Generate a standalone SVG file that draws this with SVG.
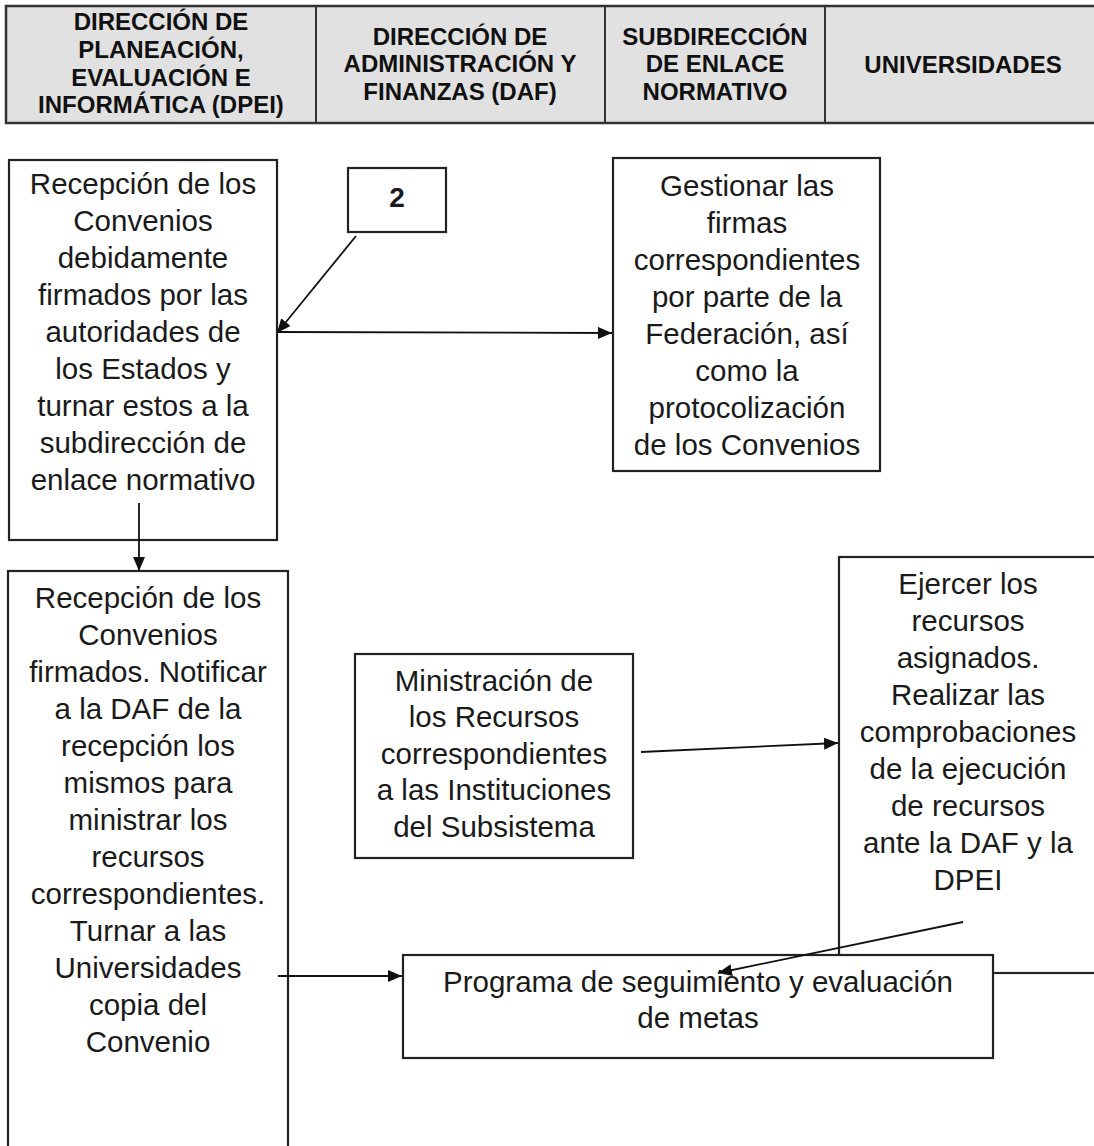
<svg xmlns="http://www.w3.org/2000/svg" width="1094" height="1146" viewBox="0 0 1094 1146">
<style>
.hdr{font-family:"Liberation Sans",Arial,sans-serif;font-weight:bold;font-size:24px;fill:#111;text-anchor:middle}
.t{font-family:"Liberation Sans",Arial,sans-serif;font-size:29.5px;fill:#1a1a1a;text-anchor:middle}
.box{fill:#fff;stroke:#222;stroke-width:2.2}
.c{stroke:#111;stroke-width:1.8;fill:none}
</style>
<defs>
<marker id="ah" viewBox="0 0 14 12" refX="14" refY="6" markerWidth="14" markerHeight="12" markerUnits="userSpaceOnUse" orient="auto">
<path d="M0,0 L14,6 L0,12 Z" fill="#111"/>
</marker>
</defs>
<rect width="1094" height="1146" fill="#fff"/>
<g id="header">
<rect x="6" y="6" width="1100" height="117" fill="#e1e1e1" stroke="#333" stroke-width="2.5"/>
<line x1="316" y1="6" x2="316" y2="123" stroke="#333" stroke-width="2"/>
<line x1="605" y1="6" x2="605" y2="123" stroke="#333" stroke-width="2"/>
<line x1="825" y1="6" x2="825" y2="123" stroke="#333" stroke-width="2"/>
<text class="hdr" x="161" y="30">DIRECCIÓN DE</text>
<text class="hdr" x="161" y="58">PLANEACIÓN,</text>
<text class="hdr" x="161" y="86">EVALUACIÓN E</text>
<text class="hdr" x="161" y="113">INFORMÁTICA (DPEI)</text>
<text class="hdr" x="460" y="45">DIRECCIÓN DE</text>
<text class="hdr" x="460" y="72">ADMINISTRACIÓN Y</text>
<text class="hdr" x="460" y="100">FINANZAS (DAF)</text>
<text class="hdr" x="715" y="45">SUBDIRECCIÓN</text>
<text class="hdr" x="715" y="72">DE ENLACE</text>
<text class="hdr" x="715" y="100">NORMATIVO</text>
<text class="hdr" x="963" y="73">UNIVERSIDADES</text>
</g>
<g id="n1">
<rect class="box" x="9" y="160" width="268" height="380"/>
<text class="t" x="143" y="194">Recepción de los</text>
<text class="t" x="143" y="231">Convenios</text>
<text class="t" x="143" y="268">debidamente</text>
<text class="t" x="143" y="305">firmados por las</text>
<text class="t" x="143" y="342">autoridades de</text>
<text class="t" x="143" y="379">los Estados y</text>
<text class="t" x="143" y="416">turnar estos a la</text>
<text class="t" x="143" y="453">subdirección de</text>
<text class="t" x="143" y="490">enlace normativo</text>
</g>
<g id="n2">
<rect class="box" x="348" y="168" width="98" height="64"/>
<text class="t" x="397" y="207" style="font-weight:bold;font-size:28px">2</text>
</g>
<g id="n3">
<rect class="box" x="613" y="158" width="267" height="313"/>
<text class="t" x="747" y="196">Gestionar las</text>
<text class="t" x="747" y="233">firmas</text>
<text class="t" x="747" y="270">correspondientes</text>
<text class="t" x="747" y="307">por parte de la</text>
<text class="t" x="747" y="344">Federación, así</text>
<text class="t" x="747" y="381">como la</text>
<text class="t" x="747" y="418">protocolización</text>
<text class="t" x="747" y="455">de los Convenios</text>
</g>
<g id="n4">
<rect class="box" x="8" y="571" width="280" height="600"/>
<text class="t" x="148" y="608">Recepción de los</text>
<text class="t" x="148" y="645">Convenios</text>
<text class="t" x="148" y="682">firmados. Notificar</text>
<text class="t" x="148" y="719">a la DAF de la</text>
<text class="t" x="148" y="756">recepción los</text>
<text class="t" x="148" y="793">mismos para</text>
<text class="t" x="148" y="830">ministrar los</text>
<text class="t" x="148" y="867">recursos</text>
<text class="t" x="148" y="904">correspondientes.</text>
<text class="t" x="148" y="941">Turnar a las</text>
<text class="t" x="148" y="978">Universidades</text>
<text class="t" x="148" y="1015">copia del</text>
<text class="t" x="148" y="1052">Convenio</text>
</g>
<g id="n5">
<rect class="box" x="355" y="654" width="278" height="204"/>
<text class="t" x="494" y="691">Ministración de</text>
<text class="t" x="494" y="727">los Recursos</text>
<text class="t" x="494" y="764">correspondientes</text>
<text class="t" x="494" y="800">a las Instituciones</text>
<text class="t" x="494" y="837">del Subsistema</text>
</g>
<g id="n6">
<rect class="box" x="839" y="557" width="300" height="416"/>
<text class="t" x="968" y="594">Ejercer los</text>
<text class="t" x="968" y="631">recursos</text>
<text class="t" x="968" y="668">asignados.</text>
<text class="t" x="968" y="705">Realizar las</text>
<text class="t" x="968" y="742">comprobaciones</text>
<text class="t" x="968" y="779">de la ejecución</text>
<text class="t" x="968" y="816">de recursos</text>
<text class="t" x="968" y="853">ante la DAF y la</text>
<text class="t" x="968" y="890">DPEI</text>
</g>
<g id="n7">
<rect class="box" x="403" y="955" width="590" height="103"/>
<text class="t" x="698" y="992">Programa de seguimiento y evaluación</text>
<text class="t" x="698" y="1028">de metas</text>
</g>
<g id="connectors">
<line class="c" x1="356" y1="236" x2="277" y2="333" marker-end="url(#ah)"/>
<line class="c" x1="277" y1="332" x2="612" y2="333" marker-end="url(#ah)"/>
<line class="c" x1="139" y1="503" x2="139" y2="571" marker-end="url(#ah)"/>
<line class="c" x1="641" y1="752" x2="838" y2="743" marker-end="url(#ah)"/>
<line class="c" x1="963" y1="922" x2="718" y2="973" marker-end="url(#ah)"/>
<line class="c" x1="278" y1="976" x2="402" y2="976" marker-end="url(#ah)"/>
</g>
</svg>
